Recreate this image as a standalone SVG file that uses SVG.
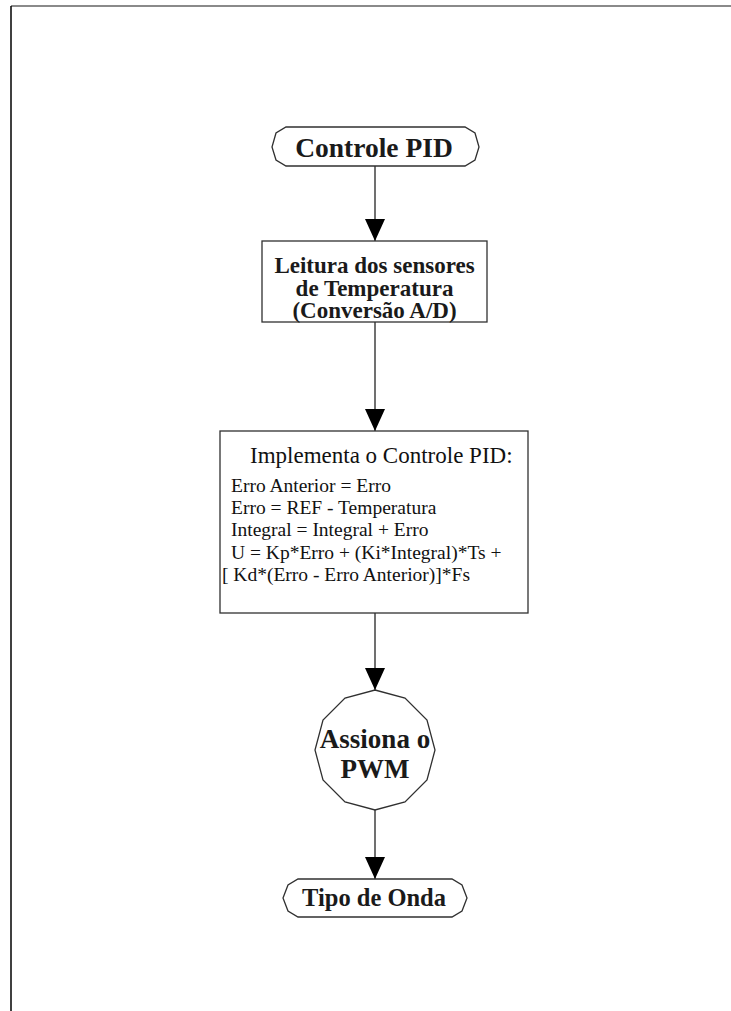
<svg xmlns="http://www.w3.org/2000/svg" width="731" height="1011" viewBox="0 0 731 1011">
  <style>
    .shape { fill: #ffffff; stroke: #303030; stroke-width: 1.3; }
    .edge { fill: none; stroke: #404040; stroke-width: 1.5; }
    .title { font-family: "Liberation Serif", "Times New Roman", serif; font-weight: bold; fill: #1a1a1a; text-anchor: middle; }
    .body { font-family: "Liberation Serif", "Times New Roman", serif; fill: #111111; }
  </style>
  <defs>
    <marker id="arrow" markerUnits="userSpaceOnUse" markerWidth="24" markerHeight="20" refX="22" refY="10" orient="auto" viewBox="0 0 24 20">
      <path d="M0,0 L22,10 L0,20 Z" fill="#000000"/>
    </marker>
  </defs>

  <rect width="731" height="1011" fill="#ffffff"/>

  <!-- page frame -->
  <line x1="11" y1="6" x2="731" y2="6" stroke="#8a8a8a" stroke-width="2"/>
  <line x1="11" y1="6" x2="11" y2="1011" stroke="#000000" stroke-width="1.5"/>

  <!-- connectors -->
  <g id="connectors">
    <line class="edge" x1="375" y1="166" x2="375" y2="241" marker-end="url(#arrow)"/>
    <line class="edge" x1="375" y1="322" x2="375" y2="431" marker-end="url(#arrow)"/>
    <line class="edge" x1="375" y1="613" x2="375" y2="690" marker-end="url(#arrow)"/>
    <line class="edge" x1="375" y1="810" x2="375" y2="879" marker-end="url(#arrow)"/>
  </g>

  <g id="start">
    <polygon class="shape" points="286,127 465,127 475,133 479,147 475,160 465,166 286,166 276,160 272,147 276,133"/>
    <text class="title" x="374" y="157" font-size="27.5">Controle PID</text>
  </g>

  <g id="read-sensors">
    <rect class="shape" x="262" y="241" width="225" height="81"/>
    <text class="title" x="374.5" y="273" font-size="23">Leitura dos sensores</text>
    <text class="title" x="374.5" y="295.5" font-size="23">de Temperatura</text>
    <text class="title" x="374.5" y="318" font-size="23">(Conversão A/D)</text>
  </g>

  <g id="pid">
    <rect class="shape" x="220" y="431" width="308" height="182"/>
    <text class="body" x="250" y="463" font-size="23">Implementa o Controle PID:</text>
    <text class="body" x="231" y="492" font-size="19.5">Erro Anterior = Erro</text>
    <text class="body" x="231" y="514" font-size="19.5">Erro = REF - Temperatura</text>
    <text class="body" x="231" y="536" font-size="19.5">Integral = Integral + Erro</text>
    <text class="body" x="231" y="559" font-size="19.5">U = Kp*Erro + (Ki*Integral)*Ts +</text>
    <text class="body" x="222" y="581" font-size="19.5">[ Kd*(Erro - Erro Anterior)]*Fs</text>
  </g>

  <g id="pwm">
    <polygon class="shape" points="375,690 405,698 427,720 435,750 427,780 405,802 375,810 345,802 323,780 315,750 323,720 345,698"/>
    <text class="title" x="375" y="748" font-size="27">Assiona o</text>
    <text class="title" x="375" y="778" font-size="27">PWM</text>
  </g>

  <g id="end">
    <polygon class="shape" points="298,879 452,879 462,885 467,898 462,911 452,917 298,917 288,911 283,898 288,885"/>
    <text class="title" x="374" y="906" font-size="24.5">Tipo de Onda</text>
  </g>
</svg>
